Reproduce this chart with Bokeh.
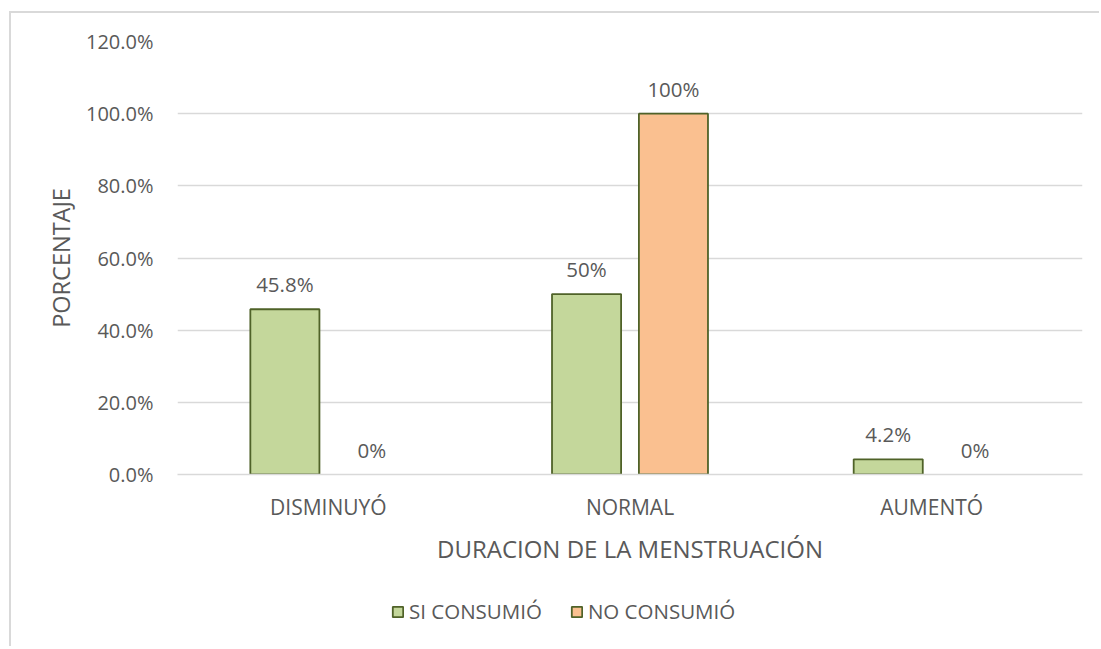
from bokeh.plotting import figure
from bokeh.layouts import column
from bokeh.models import (ColumnDataSource, FactorRange, Range1d, FixedTicker,
                          NumeralTickFormatter, Legend, LegendItem, CDSView, BooleanFilter)
from bokeh.transform import dodge
from bokeh.core.properties import value
from bokeh.embed import file_html
from bokeh.resources import INLINE

categories = ["DISMINUYÓ", "NORMAL", "AUMENTÓ"]
si_consumio = [0.458, 0.50, 0.042]
no_consumio = [0.0, 1.00, 0.0]
si_labels = ["45.8%", "50%", "4.2%"]
no_labels = ["0%", "100%", "0%"]
series_names = ["SI CONSUMIÓ", "NO CONSUMIÓ"]
y_ticks = [0.0, 0.2, 0.4, 0.6, 0.8, 1.0, 1.2]

FONT = "Open Sans"
TXT = "#595959"
GRID = "#d9d9d9"
SI_FILL = "#c4d79b"
NO_FILL = "#fac090"
EDGE = "#4f6228"

src = ColumnDataSource(data=dict(cat=categories, si=si_consumio, no=no_consumio,
                                 si_lab=si_labels, no_lab=no_labels))

W = 1088
p = figure(x_range=FactorRange(*categories), y_range=Range1d(0, 1.2),
           width=W, height=575, output_backend="svg", toolbar_location=None,
           min_border_left=166, min_border_top=28, min_border_right=17,
           min_border_bottom=114)

off = 0.144
bw = 0.229
si_view = CDSView(filter=BooleanFilter([v > 0 for v in si_consumio]))
no_view = CDSView(filter=BooleanFilter([v > 0 for v in no_consumio]))
p.vbar(x=dodge("cat", -off, range=p.x_range), top="si", width=bw, source=src,
       view=si_view, fill_color=SI_FILL, line_color=EDGE, line_width=1.8)
p.vbar(x=dodge("cat", off, range=p.x_range), top="no", width=bw, source=src,
       view=no_view, fill_color=NO_FILL, line_color=EDGE, line_width=1.8)

p.text(x=dodge("cat", -off, range=p.x_range), y="si", text="si_lab", source=src,
       text_align="center", text_baseline="alphabetic", y_offset=-25,
       text_font=value(FONT), text_font_size="20.5px", text_color=TXT)
p.text(x=dodge("cat", off, range=p.x_range), y="no", text="no_lab", source=src,
       text_align="center", text_baseline="alphabetic", y_offset=-25,
       text_font=value(FONT), text_font_size="20.5px", text_color=TXT)

p.outline_line_color = None
p.xgrid.grid_line_color = None
p.ygrid.grid_line_color = GRID
p.ygrid.grid_line_width = 1.5

p.yaxis.ticker = FixedTicker(ticks=y_ticks)
p.yaxis.formatter = NumeralTickFormatter(format="0.0%")
p.yaxis.axis_line_color = None
p.yaxis.major_tick_line_color = None
p.yaxis.minor_tick_line_color = None
p.yaxis.major_label_standoff = 18
p.yaxis.axis_label = "PORCENTAJE"
p.yaxis.axis_label_standoff = 6

p.xaxis.axis_line_color = GRID
p.xaxis.axis_line_width = 1.5
p.xaxis.major_tick_line_color = None
p.xaxis.minor_tick_line_color = None
p.xaxis.major_label_standoff = 12
p.xaxis.axis_label = "DURACION DE LA MENSTRUACIÓN"
p.xaxis.axis_label_standoff = 8

for ax in (p.xaxis[0], p.yaxis[0]):
    ax.major_label_text_font = FONT
    ax.major_label_text_color = TXT
    ax.axis_label_text_font = FONT
    ax.axis_label_text_color = TXT
    ax.axis_label_text_font_style = "normal"
    ax.axis_label_text_font_size = "24px"
p.yaxis.axis_label_text_font_size = "23.5px"
p.yaxis.major_label_text_font_size = "20px"
p.xaxis.major_label_text_font_size = "21px"

# legend strip below the chart (hidden copies of the series supply the swatches)
p2 = figure(x_range=FactorRange(*categories), y_range=Range1d(0, 1.2), width=W, height=58,
            output_backend="svg", toolbar_location=None,
            min_border_left=0, min_border_right=0, min_border_top=0, min_border_bottom=0)
p2.axis.visible = False
p2.grid.visible = False
p2.outline_line_color = None
l_si = p2.vbar(x="cat", top="si", width=bw, source=src, visible=False,
               fill_color=SI_FILL, line_color=EDGE, line_width=1.8)
l_no = p2.vbar(x="cat", top="no", width=bw, source=src, visible=False,
               fill_color=NO_FILL, line_color=EDGE, line_width=1.8)
legend = Legend(items=[LegendItem(label=series_names[0], renderers=[l_si]),
                       LegendItem(label=series_names[1], renderers=[l_no])],
                orientation="horizontal", location=(214, 21),
                label_text_font=FONT, label_text_font_size="20.5px",
                label_text_color=TXT, glyph_width=13, glyph_height=13,
                label_standoff=5, spacing=28, padding=4, margin=0,
                inactive_fill_alpha=0,
                border_line_color=None, background_fill_alpha=0)
p2.add_layout(legend, "center")

layout = column(p, p2, spacing=0,
                styles={"border-top": "2px solid #d9d9d9", "border-left": "2px solid #d9d9d9",
                        "margin-left": "9px", "margin-top": "11px"})

open("out.html", "w").write(file_html(layout, INLINE))
